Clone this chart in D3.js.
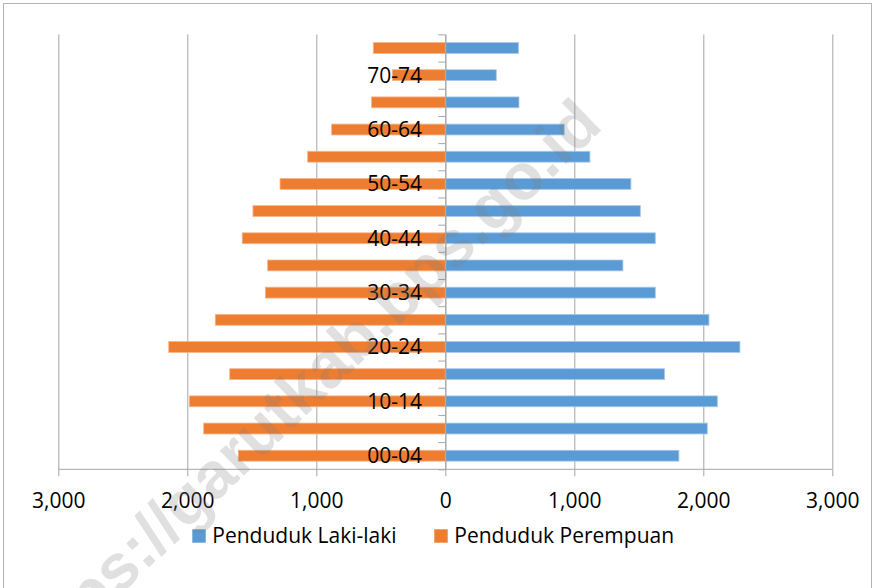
<!DOCTYPE html>
<html lang="en">
	<head>
		<meta charset="utf-8">
		<title>Piramida Penduduk</title>
		<script type="text/javascript" src="https://cdn.jsdelivr.net/npm/d3@7"></script>
		<style type="text/css">
			body { margin: 0; background: #fff; }
			svg text { font-family: "Open Sans", sans-serif; fill: #000; }
			.Axis path,
			.Axis line { stroke: #a6a6a6; }
			.Grid line { stroke: #a6a6a6; }
			.Grid path { display: none; }
		</style>
	</head>
	<body>
		<script type="text/javascript">

			//Data, bottom to top
			var ageGroups = ["00-04", "05-09", "10-14", "15-19", "20-24", "25-29", "30-34", "35-39",
			                 "40-44", "45-49", "50-54", "55-59", "60-64", "65-69", "70-74", "75+"];
			var lakiLaki  = [1811, 2031, 2109, 1700, 2284, 2044, 1628, 1377, 1628, 1512, 1439, 1121, 922, 571, 395, 568];
			var perempuan = [1605, 1873, 1984, 1671, 2144, 1783, 1395, 1377, 1574, 1491, 1281, 1067, 881, 571, 411, 558];
			var xTicks = [-3000, -2000, -1000, 0, 1000, 2000, 3000];
			var seriesNames = ["Penduduk Laki-laki", "Penduduk Perempuan"];

			var colors = ["#5b9bd5", "#ed7d31"];
			var edges = ["#a8c9ec", "#f5b48a"];

			//Width and height
			var w = 874;
			var h = 588;
			var plotL = 58.3, plotR = 832.3, plotT = 34.4, plotB = 469.3;

			var xScale = d3.scaleLinear()
			               .domain([-3000, 3000])
			               .range([plotL, plotR]);

			var yScale = d3.scaleBand()
			               .domain(ageGroups.slice().reverse())
			               .range([plotT, plotB]);

			//boundary scale for the category tick marks
			var yEdge = d3.scaleLinear()
			              .domain([0, ageGroups.length])
			              .range([plotB, plotT]);

			var barH = yScale.bandwidth() * 0.4;

			var svg = d3.select("body")
			            .append("svg")
			            .attr("width", w)
			            .attr("height", h);

			//Chart border
			svg.append("rect")
			   .attr("x", 3.5)
			   .attr("y", 3.5)
			   .attr("width", 868)
			   .attr("height", 640)
			   .attr("fill", "none")
			   .attr("stroke", "#b4b4b4");

			//Vertical gridlines
			svg.append("g")
			   .classed("Grid", true)
			   .attr("transform", `translate(0,${plotB})`)
			   .call(d3.axisBottom(xScale)
			           .tickValues(xTicks)
			           .tickSize(-(plotB - plotT))
			           .tickFormat(""));

			var rows = ageGroups.map(function(a, i) {
				return { age: a, laki: lakiLaki[i], perempuan: perempuan[i] };
			});

			//Male bars (right)
			svg.selectAll("rect.laki")
			   .data(rows)
			   .enter()
			   .append("rect")
			   .attr("class", "laki")
			   .attr("x", xScale(0))
			   .attr("y", function(d) { return yScale(d.age) + (yScale.bandwidth() - barH) / 2; })
			   .attr("width", function(d) { return xScale(d.laki) - xScale(0); })
			   .attr("height", barH)
			   .attr("fill", colors[0])
			   .attr("stroke", edges[0])
			   .attr("stroke-width", 0.8);

			//Female bars (left)
			svg.selectAll("rect.perempuan")
			   .data(rows)
			   .enter()
			   .append("rect")
			   .attr("class", "perempuan")
			   .attr("x", function(d) { return xScale(-d.perempuan); })
			   .attr("y", function(d) { return yScale(d.age) + (yScale.bandwidth() - barH) / 2; })
			   .attr("width", function(d) { return xScale(0) - xScale(-d.perempuan); })
			   .attr("height", barH)
			   .attr("fill", colors[1])
			   .attr("stroke", edges[1])
			   .attr("stroke-width", 0.8);

			//X axis
			var xAxis = svg.append("g")
			   .classed("Axis", true)
			   .attr("transform", `translate(0,${plotB})`)
			   .call(d3.axisBottom(xScale)
			           .tickValues(xTicks)
			           .tickSize(7)
			           .tickSizeOuter(0)
			           .tickPadding(16.5)
			           .tickFormat(function(d) { return d3.format(",")(Math.abs(d)); }));
			xAxis.selectAll("text")
			     .style("font-size", "21px")
			     .attr("fill", "#000");
			xAxis.select("path").attr("d", `M${plotL},0H${plotR}`);

			//Category axis at zero
			svg.append("g")
			   .classed("Axis", true)
			   .attr("transform", `translate(${xScale(0)},0)`)
			   .call(d3.axisLeft(yEdge)
			           .tickValues(d3.range(ageGroups.length + 1))
			           .tickSize(7)
			           .tickSizeOuter(0)
			           .tickFormat(""));

			//Category labels, every second one
			svg.selectAll("text.age")
			   .data(ageGroups.filter(function(a, i) { return i % 2 === 0; }))
			   .enter()
			   .append("text")
			   .attr("class", "age")
			   .attr("x", 422)
			   .attr("y", function(d) { return yScale(d) + yScale.bandwidth() / 2 + 7.4; })
			   .attr("text-anchor", "end")
			   .style("font-size", "21px")
			   .text(function(d) { return d; });

			//Legend
			var legendX = [192.3, 434.3];
			var legend = svg.selectAll("g.legend")
			   .data(seriesNames)
			   .enter()
			   .append("g")
			   .attr("class", "legend")
			   .attr("transform", function(d, i) { return `translate(${legendX[i]},529.3)`; });
			legend.append("rect")
			      .attr("width", 13.4)
			      .attr("height", 13.4)
			      .attr("fill", function(d, i) { return colors[i]; });
			legend.append("text")
			      .attr("x", 20)
			      .attr("y", 13.4)
			      .style("font-size", "21px")
			      .text(function(d) { return d; });

			//Watermark
			svg.append("text")
			   .attr("transform", "translate(305,392) rotate(-44)")
			   .attr("text-anchor", "middle")
			   .attr("dy", "0.27em")
			   .style("font-family", "'Liberation Sans', Arial, sans-serif")
			   .style("font-weight", "bold")
			   .style("font-size", "65px")
			   .style("fill", "#7f7f7f")
			   .style("fill-opacity", 0.24)
			   .text("https://garutkab.bps.go.id");

		</script>
	</body>
</html>
